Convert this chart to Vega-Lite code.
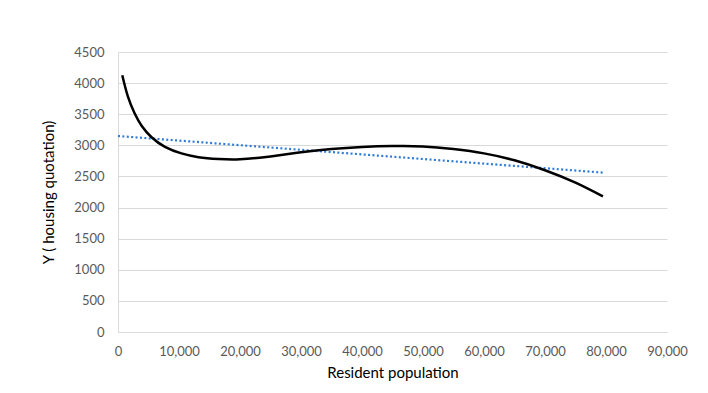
{
  "$schema": "https://vega.github.io/schema/vega-lite/v6.json",
  "width": 549,
  "height": 280,
  "autosize": {"type": "none"},
  "padding": {"left": 118, "top": 52, "right": 41, "bottom": 61},
  "background": "white",
  "config": {
    "font": "Lato",
    "view": {"stroke": null},
    "axis": {"labelFont": "Lato", "titleFont": "Lato", "labelColor": "#595959", "titleColor": "#000000", "labelFontSize": 13, "titleFontSize": 15, "titleFontWeight": "normal", "domainColor": "#d9d9d9", "gridColor": "#d9d9d9", "ticks": false, "labelFlush": false, "labelOverlap": false}
  },
  "datasets": {
    "curve": [
      {"pop": 700, "y": 4125},
      {"pop": 1600, "y": 3790},
      {"pop": 2700, "y": 3520},
      {"pop": 3900, "y": 3310},
      {"pop": 5500, "y": 3130},
      {"pop": 7700, "y": 2975},
      {"pop": 10400, "y": 2870},
      {"pop": 13200, "y": 2810},
      {"pop": 16500, "y": 2780},
      {"pop": 20000, "y": 2775},
      {"pop": 25000, "y": 2822},
      {"pop": 30000, "y": 2888},
      {"pop": 35000, "y": 2940},
      {"pop": 40000, "y": 2972},
      {"pop": 45000, "y": 2988},
      {"pop": 50000, "y": 2983},
      {"pop": 55000, "y": 2941},
      {"pop": 60000, "y": 2871},
      {"pop": 65000, "y": 2759},
      {"pop": 70000, "y": 2599},
      {"pop": 75000, "y": 2399},
      {"pop": 79500, "y": 2178}
    ],
    "trend": [
      {"pop": 0, "y": 3150},
      {"pop": 79500, "y": 2562}
    ]
  },
  "encoding": {
    "x": {"field": "pop", "type": "quantitative", "scale": {"domain": [0, 90000], "nice": false}, "axis": {"title": "Resident population", "values": [0,10000,20000,30000,40000,50000,60000,70000,80000,90000], "format": ",d", "grid": false, "labelPadding": 13, "titlePadding": 7, "domain": true}},
    "y": {"field": "y", "type": "quantitative", "scale": {"domain": [0, 4500], "nice": false}, "axis": {"title": "Y ( housing quotation)", "values": [0,500,1000,1500,2000,2500,3000,3500,4000,4500], "format": "d", "grid": true, "labelPadding": 14, "titlePadding": 17, "domain": true}}
  },
  "layer": [
    {
      "data": {"name": "trend"},
      "mark": {"type": "line", "color": "#2E7BD6", "strokeWidth": 2.2, "strokeDash": [2, 2.4]}
    },
    {
      "data": {"name": "curve"},
      "mark": {"type": "line", "color": "#000000", "strokeWidth": 2.5, "interpolate": "natural"}
    }
  ]
}
